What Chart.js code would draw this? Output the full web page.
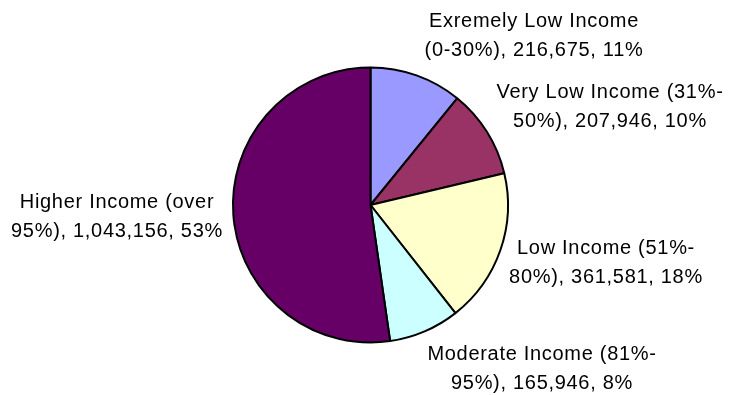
<!DOCTYPE html>
<html>
<head>
<meta charset="utf-8">
<script src="https://cdn.jsdelivr.net/npm/chart.js@4/dist/chart.umd.min.js"></script>
<style>
  body { margin: 0; background: #fff; }
  canvas { display: block; }
</style>
</head>
<body>
<canvas id="grafico" width="732" height="395"></canvas>
<script>
// dados
const categorias = [
    'Exremely Low Income (0-30%)',
    'Very Low Income (31%-50%)',
    'Low Income (51%-80%)',
    'Moderate Income (81%-95%)',
    'Higher Income (over 95%)'
];
const valores = [216675, 207946, 361581, 165946, 1043156];
const percentuais = [11, 10, 18, 8, 53];
const rotulos = [
    ['Exremely Low Income', '(0-30%), 216,675, 11%'],
    ['Very Low Income (31%-', '50%), 207,946, 10%'],
    ['Low Income (51%-', '80%), 361,581, 18%'],
    ['Moderate Income (81%-', '95%), 165,946, 8%'],
    ['Higher Income (over', '95%), 1,043,156, 53%']
];
const cores = ['#9999FF', '#993366', '#FFFFCC', '#CCFFFF', '#660066'];

// posição dos rótulos (centro x, linha de base da 1a linha)
const posRotulos = [[534, 27], [610, 98], [606, 254], [542, 360], [117, 208]];

const rotulosPlugin = {
    id: 'rotulos',
    afterDraw(chart) {
        const ctx = chart.ctx;
        ctx.save();
        ctx.fillStyle = '#000';
        ctx.font = '20px "Liberation Sans", Arial, sans-serif';
        ctx.letterSpacing = '0.7px';
        ctx.textAlign = 'center';
        ctx.textBaseline = 'alphabetic';
        rotulos.forEach((linhas, i) => {
            const [x, y] = posRotulos[i];
            linhas.forEach((t, j) => ctx.fillText(t, x, y + j * 29.4));
        });
        ctx.restore();
    }
};

new Chart(document.getElementById('grafico').getContext('2d'), {
    type: 'pie',
    data: {
        labels: categorias,
        datasets: [{
            data: valores,
            backgroundColor: cores,
            borderColor: '#000',
            borderWidth: 2
        }]
    },
    options: {
        responsive: false,
        animation: false,
        radius: 137.5,
        layout: {
            padding: { left: 9, right: 0, top: 15, bottom: 0 }
        },
        plugins: {
            legend: { display: false },
            tooltip: { enabled: false }
        }
    },
    plugins: [rotulosPlugin]
});
</script>
</body>
</html>
